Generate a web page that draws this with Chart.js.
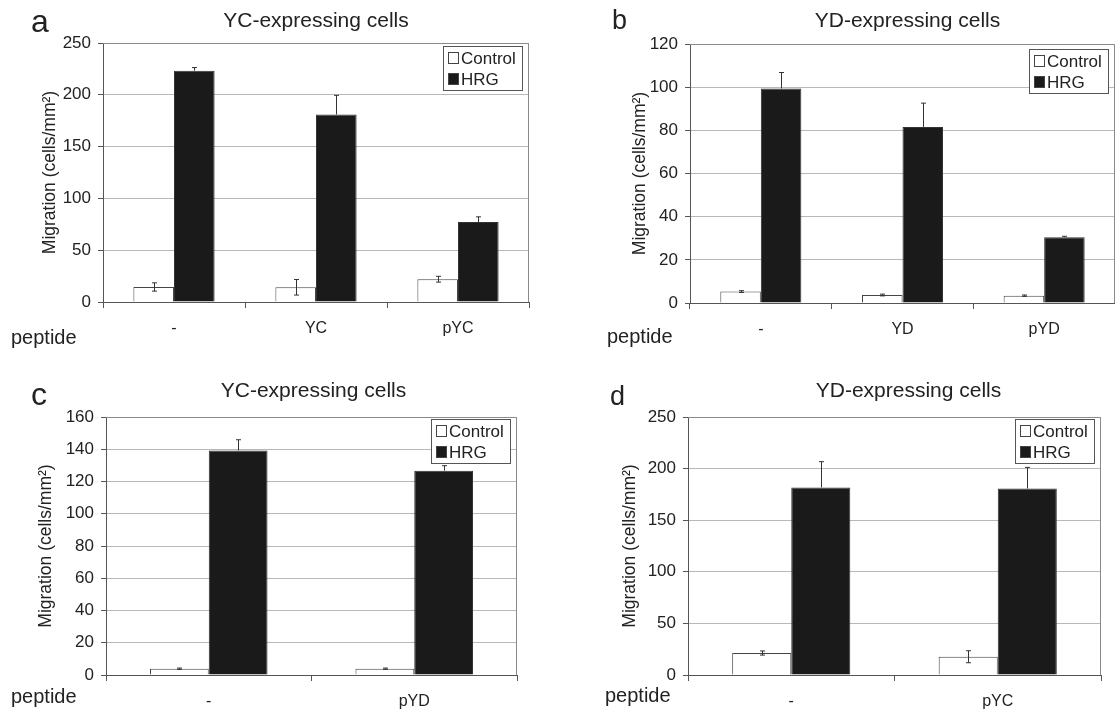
<!DOCTYPE html>
<html>
<head>
<meta charset="utf-8">
<script src="https://cdn.jsdelivr.net/npm/chart.js@4.4.0/dist/chart.umd.min.js"></script>
<style>
  body { margin: 0; background: #fff; }
  .panel { position: absolute; }
</style>
</head>
<body>
<div class="panel" style="left:0;top:0;width:557px;height:355px"><canvas id="chartA"></canvas></div>
<div class="panel" style="left:557px;top:0;width:558px;height:355px"><canvas id="chartB"></canvas></div>
<div class="panel" style="left:0;top:355px;width:557px;height:362px"><canvas id="chartC"></canvas></div>
<div class="panel" style="left:557px;top:355px;width:558px;height:362px"><canvas id="chartD"></canvas></div>
<script>
// data
const catsA = ['-', 'YC', 'pYC'];
const controlA = [14.5, 14.2, 22];
const controlErrA = [4, 7.5, 2.8];
const hrgA = [223.3, 181, 77.2];
const hrgErrA = [3, 18.5, 5];

const catsB = ['-', 'YD', 'pYD'];
const controlB = [5.3, 3.7, 3.4];
const controlErrB = [0.4, 0.4, 0.3];
const hrgB = [99.4, 81.6, 30.5];
const hrgErrB = [7.4, 11, 0.4];

const catsC = ['-', 'pYD'];
const controlC = [3.9, 3.9];
const controlErrC = [0.4, 0.4];
const hrgC = [139.3, 126.7];
const hrgErrC = [6.6, 3.1];

const catsD = ['-', 'pYC'];
const controlD = [21.3, 17.7];
const controlErrD = [2, 5.8];
const hrgD = [181.8, 180.8];
const hrgErrD = [24.9, 20.4];

const FONT = "'Liberation Sans', Arial, sans-serif";
const TXT = '#222';

// error bars on top of the bars (the lower half of the HRG ones is hidden in the black bar)
const errorBars = {
  id: 'errorBars',
  afterDatasetsDraw(chart) {
    const ctx = chart.ctx;
    const y = chart.scales.y;
    const area = chart.chartArea;
    // frame on top and right of the plot area
    ctx.save();
    ctx.strokeStyle = '#8a8a8a';
    ctx.lineWidth = 1;
    ctx.beginPath();
    ctx.moveTo(area.left, area.top + 0.5);
    ctx.lineTo(area.right - 0.5, area.top + 0.5);
    ctx.lineTo(area.right - 0.5, area.bottom);
    ctx.stroke();
    chart.data.datasets.forEach((ds, i) => {
      const meta = chart.getDatasetMeta(i);
      meta.data.forEach((bar, j) => {
        const v = ds.data[j], e = ds.errors[j];
        const x = Math.round(bar.x) + 0.5;
        const top = y.getPixelForValue(v + e);
        const bot = ds.upperOnly ? y.getPixelForValue(v) : y.getPixelForValue(v - e);
        ctx.strokeStyle = '#333';
        ctx.beginPath();
        ctx.moveTo(x, top); ctx.lineTo(x, bot);
        ctx.moveTo(x - 2.5, top); ctx.lineTo(x + 2.5, top);
        if (!ds.upperOnly) {
          ctx.moveTo(x - 2.5, bot); ctx.lineTo(x + 2.5, bot);
        }
        ctx.stroke();
      });
    });
    ctx.restore();
  }
};

// titles, panel letter, "peptide" and the legend box
const decorations = {
  id: 'decorations',
  afterDraw(chart) {
    const o = chart.options.plugins.decorations;
    const ctx = chart.ctx;
    const area = chart.chartArea;
    ctx.save();
    ctx.fillStyle = TXT;
    ctx.textBaseline = 'alphabetic';
    ctx.textAlign = 'center';
    ctx.font = '21px ' + FONT;
    ctx.fillText(o.title, (area.left + area.right) / 2 + o.titleDx, area.top - o.titleGap);
    ctx.textAlign = 'left';
    ctx.font = o.letterSize + 'px ' + FONT;
    ctx.fillText(o.letter, o.letterX, o.letterY);
    ctx.font = '20px ' + FONT;
    ctx.fillText('peptide', o.pepX, o.pepY);

    // legend
    const w = 79, h = 44;
    const lx = area.right - 7 - w, ly = area.top + o.legendTop;
    ctx.fillStyle = '#fff';
    ctx.fillRect(lx, ly, w, h);
    ctx.strokeStyle = '#555';
    ctx.lineWidth = 1;
    ctx.strokeRect(Math.round(lx) + 0.5, Math.round(ly) + 0.5, w, h);
    ctx.font = '17px ' + FONT;
    ctx.textBaseline = 'middle';
    chart.data.datasets.forEach((ds, i) => {
      const cy = ly + 12 + i * 21;
      ctx.fillStyle = ds.backgroundColor;
      ctx.fillRect(Math.round(lx) + 5, Math.round(cy) - 6, 11, 12);
      ctx.strokeStyle = '#444';
      ctx.strokeRect(Math.round(lx) + 5.5, Math.round(cy) - 5.5, 10, 11);
      ctx.fillStyle = TXT;
      ctx.fillText(ds.label, lx + 18, cy + 1);
    });
    ctx.restore();
  }
};

function makeChart(id, cats, control, controlErr, hrg, hrgErr, p) {
  return new Chart(document.getElementById(id), {
    type: 'bar',
    data: {
      labels: cats,
      datasets: [
        { label: 'Control', data: control, errors: controlErr, backgroundColor: '#ffffff',
          borderColor: '#444', borderWidth: 1 },
        { label: 'HRG', data: hrg, errors: hrgErr, upperOnly: true, backgroundColor: '#1a1a1a',
          borderColor: '#333', borderWidth: 1 }
      ]
    },
    options: {
      responsive: true,
      maintainAspectRatio: false,
      animation: false,
      datasets: { bar: { barPercentage: 1, categoryPercentage: 0.572 } },
      layout: { padding: { left: 0, right: p.padRight, top: p.padTop, bottom: 0 } },
      scales: {
        x: {
          grid: { drawOnChartArea: false, offset: true, tickLength: 6, color: '#555' },
          border: { color: '#555' },
          ticks: { color: TXT, font: { size: 16, family: FONT }, padding: 11, maxRotation: 0 },
          afterFit: s => { s.height = p.xAxisH; }
        },
        y: {
          min: 0, max: p.max,
          ticks: { stepSize: p.step, color: TXT, font: { size: 17, family: FONT }, padding: 7 },
          grid: { color: '#b8b8b8', tickColor: '#555', tickLength: 5 },
          border: { color: '#555' },
          title: { display: true, text: 'Migration (cells/mm²)', color: TXT,
                   font: { size: 17.5, family: FONT }, padding: { top: p.yTitlePad, bottom: 0 } },
          afterFit: s => { s.width = p.yAxisW; }
        }
      },
      plugins: {
        legend: { display: false },
        tooltip: { enabled: false },
        decorations: p.deco
      }
    },
    plugins: [errorBars, decorations]
  });
}

makeChart('chartA', catsA, controlA, controlErrA, hrgA, hrgErrA, {
  max: 250, step: 50, padRight: 28, padTop: 43, xAxisH: 53, yAxisW: 103, yTitlePad: 40,
  deco: { title: 'YC-expressing cells', titleDx: 0, titleGap: 16, letter: 'a', letterSize: 32,
          letterX: 31, letterY: 32, pepX: 11, pepY: 344, legendTop: 3 }
});
makeChart('chartB', catsB, controlB, controlErrB, hrgB, hrgErrB, {
  max: 120, step: 20, padRight: 0, padTop: 44, xAxisH: 52, yAxisW: 133, yTitlePad: 73,
  deco: { title: 'YD-expressing cells', titleDx: 5, titleGap: 17, letter: 'b', letterSize: 27,
          letterX: 55, letterY: 29, pepX: 50, pepY: 343, legendTop: 5 }
});
makeChart('chartC', catsC, controlC, controlErrC, hrgC, hrgErrC, {
  max: 160, step: 20, padRight: 40, padTop: 62, xAxisH: 42, yAxisW: 106, yTitlePad: 36,
  deco: { title: 'YC-expressing cells', titleDx: 2, titleGap: 20, letter: 'c', letterSize: 32,
          letterX: 31, letterY: 50, pepX: 11, pepY: 348, legendTop: 2 }
});
makeChart('chartD', catsD, controlD, controlErrD, hrgD, hrgErrD, {
  max: 250, step: 50, padRight: 14, padTop: 62, xAxisH: 42, yAxisW: 131, yTitlePad: 63,
  deco: { title: 'YD-expressing cells', titleDx: 14, titleGap: 20, letter: 'd', letterSize: 27,
          letterX: 53, letterY: 50, pepX: 48, pepY: 347, legendTop: 2 }
});
</script>
</body>
</html>
